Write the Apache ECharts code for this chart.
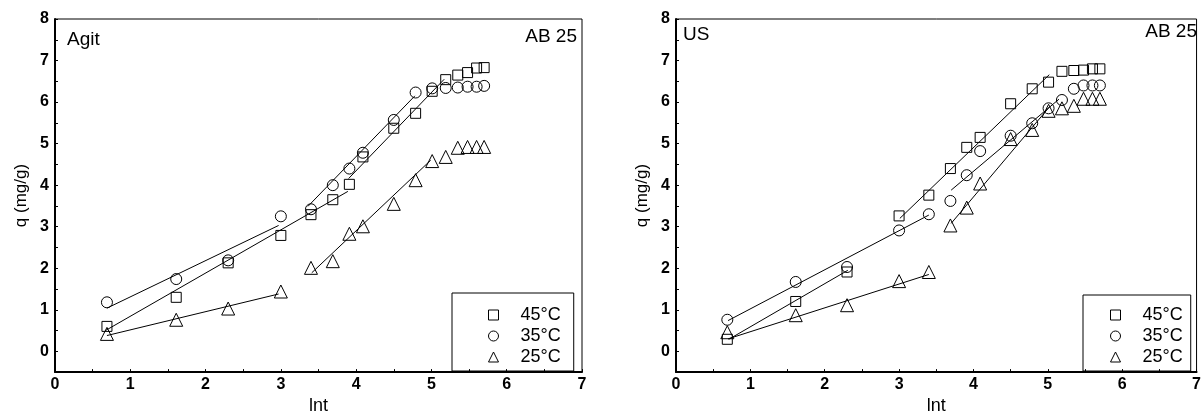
<!DOCTYPE html>
<html><head><meta charset="utf-8">
<script src="https://cdn.jsdelivr.net/npm/echarts@6/dist/echarts.min.js"></script>
<style>html,body{margin:0;padding:0;background:#fff}#c{width:1204px;height:420px}</style>
</head><body><div id="c"></div><script>
// ---- data ----
const panels = ['Agit', 'US'];
const seriesNames = ['45°C', '35°C', '25°C'];
const lnt = [0.69, 1.61, 2.30, 3.00, 3.40, 3.69, 3.91, 4.09, 4.50, 4.79, 5.01, 5.19, 5.35, 5.48, 5.60, 5.70];
const agit45 = [0.60, 1.30, 2.13, 2.79, 3.29, 3.65, 4.02, 4.68, 5.37, 5.73, 6.26, 6.54, 6.65, 6.71, 6.82, 6.83];
const agit35 = [1.18, 1.74, 2.19, 3.25, 3.42, 4.00, 4.40, 4.78, 5.57, 6.23, 6.33, 6.34, 6.35, 6.37, 6.37, 6.39];
const agit25 = [0.42, 0.76, 1.03, 1.44, 2.01, 2.17, 2.83, 3.01, 3.55, 4.12, 4.58, 4.68, 4.90, 4.92, 4.92, 4.92];
const us45 = [0.29, 1.20, 1.91, 3.26, 3.76, 4.40, 4.91, 5.15, 5.96, 6.32, 6.48, 6.74, 6.76, 6.77, 6.80, 6.80];
const us35 = [0.76, 1.67, 2.03, 2.91, 3.30, 3.62, 4.24, 4.82, 5.19, 5.49, 5.85, 6.05, 6.32, 6.40, 6.40, 6.40];
const us25 = [0.46, 0.87, 1.11, 1.69, 1.91, 3.03, 3.46, 4.04, 5.11, 5.33, 5.79, 5.85, 5.91, 6.08, 6.08, 6.08];
// fitted segments: [[x1,y1],[x2,y2]]
const agitFit45 = [[[0.67, 0.50], [3.89, 3.85]], [[3.90, 4.16], [5.17, 6.55]]];
const agitFit35 = [[[0.69, 1.04], [2.97, 3.03]], [[3.36, 3.49], [4.78, 6.15]]];
const agitFit25 = [[[0.69, 0.38], [2.97, 1.38]], [[3.41, 1.89], [4.99, 4.60]]];
const usFit45 = [[[0.71, 0.29], [2.31, 1.95]], [[3.01, 3.20], [5.02, 6.66]]];
const usFit35 = [[[0.70, 0.74], [3.40, 3.28]], [[3.70, 3.88], [5.15, 6.07]]];
const usFit25 = [[[0.70, 0.30], [3.40, 1.85]], [[3.70, 3.08], [5.02, 5.88]]];

// ---- styling ----
const FONT = '"Liberation Sans", Arial, sans-serif';
const symbols = ['rect', 'circle', 'triangle'];
const symSizes = [10, 11, 13];
const gridLefts = [55, 676];
const pointSets = [[agit45, agit35, agit25], [us45, us35, us25]];
const fitSets = [[agitFit45, agitFit35, agitFit25], [usFit45, usFit35, usFit25]];

const chart = echarts.init(document.getElementById('c'));
const grids = [], xAxes = [], yAxes = [], series = [], legends = [], graphics = [];
panels.forEach((p, gi) => {
  grids.push({left: gridLefts[gi], top: 19, width: 527, height: 355, show: true,
    borderColor: '#000', borderWidth: 1, backgroundColor: 'transparent'});
  xAxes.push({gridIndex: gi, type: 'value', min: 0, max: 7, interval: 0.5,
    name: 'lnt', nameLocation: 'middle', nameGap: 24,
    nameTextStyle: {fontFamily: FONT, fontSize: 18, color: '#000'},
    axisLine: {onZero: false, lineStyle: {color: '#000', width: 2}},
    axisTick: {inside: true, length: 3, lineStyle: {color: '#000'}},
    axisLabel: {formatter: v => Number.isInteger(v) ? String(v) : '', fontFamily: FONT,
      fontWeight: 'bold', fontSize: 16, color: '#000', margin: 4},
    splitLine: {show: false}});
  yAxes.push({gridIndex: gi, type: 'value', min: -0.5, max: 8, interval: 0.5,
    name: 'q (mg/g)', nameLocation: 'middle', nameGap: 25,
    nameTextStyle: {fontFamily: FONT, fontSize: 17, color: '#000'},
    axisLine: {onZero: false, lineStyle: {color: '#000', width: 2}},
    axisTick: {inside: true, length: 3, lineStyle: {color: '#000'}},
    axisLabel: {formatter: v => Number.isInteger(v) ? String(v) : '', fontFamily: FONT,
      fontWeight: 'bold', fontSize: 16, color: '#000', margin: 6},
    splitLine: {show: false}});
  fitSets[gi].forEach((segs) => {
    segs.forEach(seg => {
      series.push({type: 'line', xAxisIndex: gi, yAxisIndex: gi, data: seg, showSymbol: false,
        silent: true, lineStyle: {color: '#000', width: 1}, z: 2});
    });
  });
  seriesNames.forEach((name, si) => {
    series.push({type: 'scatter', name, xAxisIndex: gi, yAxisIndex: gi,
      data: lnt.map((x, i) => [x, pointSets[gi][si][i]]),
      symbol: symbols[si], symbolSize: symSizes[si],
      itemStyle: {color: 'rgba(255,255,255,0)', borderColor: '#000', borderWidth: 1, opacity: 1},
      emphasis: {disabled: true}, z: 3});
  });
});
const legendBase = {data: seriesNames, orient: 'vertical', itemWidth: 10, itemHeight: 10, itemGap: 3,
  selectedMode: false, borderColor: '#000', borderWidth: 1,
  itemStyle: {color: 'rgba(255,255,255,0)', borderColor: '#000', borderWidth: 1},
  formatter: n => '{t|' + n + '}',
  textStyle: {fontFamily: FONT, fontSize: 18, color: '#000',
    rich: {t: {fontFamily: FONT, fontSize: 18, color: '#000', padding: [0, 0, 0, 17], lineHeight: 18}}}};
legends.push(Object.assign({}, legendBase, {left: 452, top: 293, padding: [13, 13, 5, 36]}));
legends.push(Object.assign({}, legendBase, {left: 1083, top: 295, padding: [11, 8, 5, 27]}));

const annot = [
  {text: 'Agit', x: 67, y: 40, align: 'left'},
  {text: 'AB 25', x: 577, y: 37, align: 'right'},
  {text: 'US', x: 683, y: 35, align: 'left'},
  {text: 'AB 25', x: 1197, y: 32, align: 'right'}
];
annot.forEach(a => graphics.push({type: 'text', x: a.x, y: a.y, z: 10,
  style: {text: a.text, font: '19px ' + FONT, fill: '#000', align: a.align, verticalAlign: 'middle'}}));

chart.setOption({animation: false, backgroundColor: '#fff', grid: grids, xAxis: xAxes, yAxis: yAxes,
  series, legend: legends, graphic: graphics});
</script></body></html>
